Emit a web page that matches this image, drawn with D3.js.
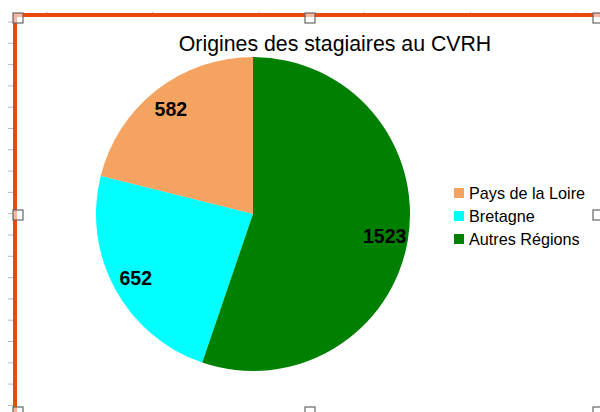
<!DOCTYPE html>
<html><head><meta charset="utf-8">
<script src="https://cdn.jsdelivr.net/npm/d3@7"></script>
<style>html,body{margin:0;padding:0;background:#fff;}svg{display:block;}</style>
</head><body>
<svg id="c" width="600" height="412"></svg>
<script>
const categories = ["Pays de la Loire", "Bretagne", "Autres Régions"];
const values = [582, 652, 1523];
const colors = ["#F4A460", "#00FFFF", "#008000"];
const title = "Origines des stagiaires au CVRH";

const svg = d3.select("#c");
const cx = 253, cy = 214, R = 157;

// ruler ticks (edit-mode decoration)
const leftTicks = d3.range(22, 410, 21.3);
svg.selectAll("line.lt").data(leftTicks).enter().append("line")
  .attr("x1", 8).attr("x2", 13).attr("y1", d => d).attr("y2", d => d)
  .attr("stroke", "#bbb").attr("stroke-width", 1);
const topTicks = d3.range(47, 600, 105.8);
svg.selectAll("line.tt").data(topTicks).enter().append("line")
  .attr("y1", 12).attr("y2", 15).attr("x1", d => d).attr("x2", d => d)
  .attr("stroke", "#bbb").attr("stroke-width", 1);

// selection frame
svg.append("line").attr("x1", 13).attr("x2", 600).attr("y1", 15).attr("y2", 15)
  .attr("stroke", "#EA4A0C").attr("stroke-width", 4);
svg.append("line").attr("x1", 15).attr("x2", 15).attr("y1", 13).attr("y2", 412)
  .attr("stroke", "#EA4A0C").attr("stroke-width", 4);

const pie = d3.pie().sort(null).startAngle(0).endAngle(-2 * Math.PI);
const arcs = pie(values);
const arc = d3.arc().innerRadius(0).outerRadius(R);
const labelArc = d3.arc().innerRadius(R * 0.85).outerRadius(R * 0.85);

const g = svg.append("g").attr("transform", `translate(${cx},${cy})`);
g.selectAll("path").data(arcs).enter().append("path")
  .attr("d", arc).attr("fill", (d, i) => colors[i]);
g.selectAll("text").data(arcs).enter().append("text")
  .attr("transform", d => `translate(${labelArc.centroid(d)})`)
  .attr("text-anchor", "middle").attr("dy", "0.36em")
  .attr("font-family", "Liberation Sans, Arial, sans-serif")
  .attr("font-weight", "bold").attr("font-size", 19.5)
  .text(d => d.data);

svg.append("text").attr("x", 335).attr("y", 51).attr("text-anchor", "middle")
  .attr("font-family", "Liberation Sans, Arial, sans-serif").attr("font-size", 21.3)
  .attr("fill", "#000").text(title);

const leg = svg.append("g");
categories.forEach((c, i) => {
  const y = 193 + i * 23;
  leg.append("rect").attr("x", 454).attr("y", y - 5).attr("width", 10).attr("height", 10)
    .attr("fill", colors[i]);
  leg.append("text").attr("x", 469).attr("y", y).attr("dy", "0.35em")
    .attr("font-family", "Liberation Sans, Arial, sans-serif").attr("font-size", 16.2)
    .attr("fill", "#000").text(c);
});

// handles
const handles = [[18,18],[310,18],[598,18],[18,215],[598,215],[18,412],[310,412],[598,412]];
svg.selectAll("rect.h").data(handles).enter().append("rect")
  .attr("x", d => d[0] - 5).attr("y", d => d[1] - 5).attr("width", 10).attr("height", 10)
  .attr("fill", "rgba(255,255,255,0.6)").attr("stroke", "#666").attr("stroke-width", 1.2);
</script>
</body></html>
